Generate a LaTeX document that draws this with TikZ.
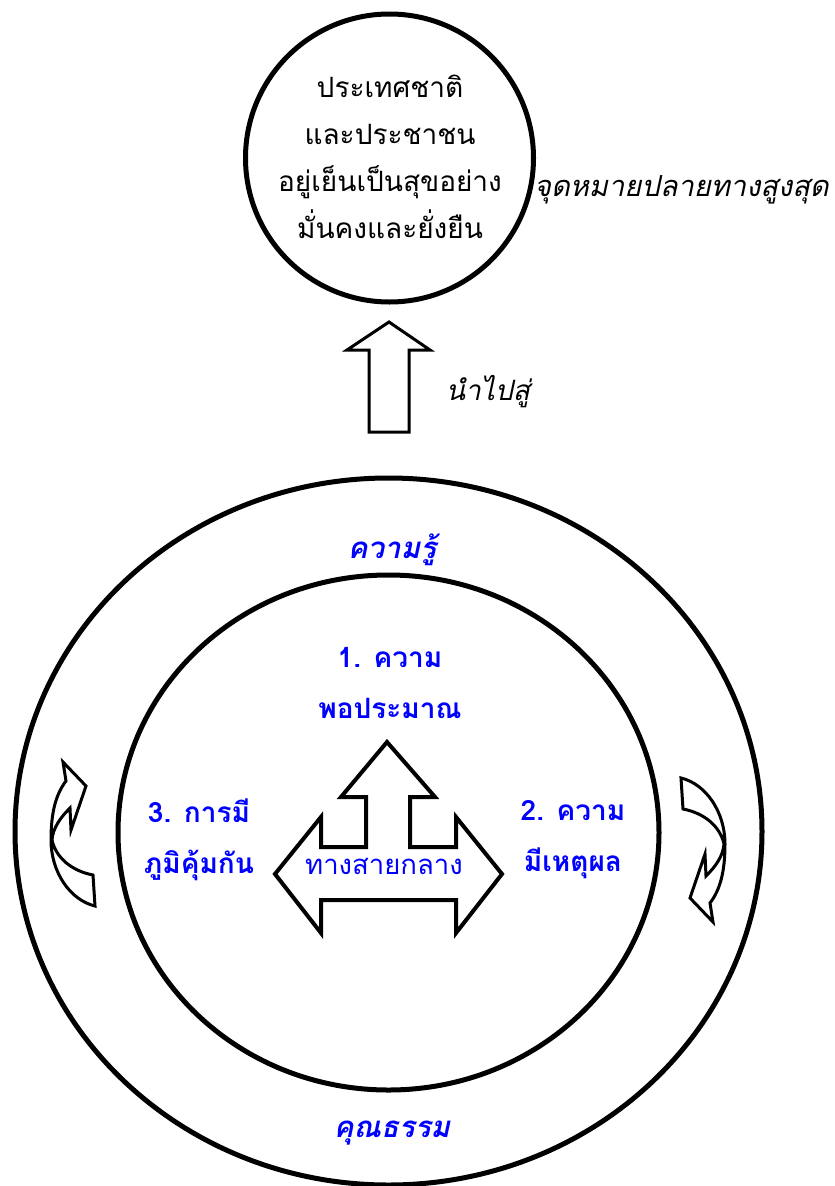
\documentclass[tikz,border=0pt]{standalone}
\usepackage{fontspec}
\newfontfamily\thai[Script=Thai]{Loma}
\definecolor{tblue}{RGB}{0,0,255}
\tikzset{
  ring/.style={draw=black, line width=5pt},
  uparrow/.style={draw=black, line width=3pt, fill=white, line join=miter},
  tarrow/.style={draw=black, line width=4pt, fill=white, line join=miter},
  curvarrow/.style={draw=black, line width=3pt, fill=white, line join=miter},
  blacktext/.style={font=\thai\fontsize{28}{47}\selectfont, align=center, text=black, inner sep=0pt},
  italictext/.style={font=\thai\itshape\fontsize{28}{34}\selectfont, text=black, inner sep=0pt},
  pillar/.style={font=\thai\bfseries\fontsize{28}{51}\selectfont, text=tblue, align=center, inner sep=0pt},
  ringlabel/.style={font=\thai\bfseries\itshape\fontsize{29.5}{34}\selectfont, text=tblue, inner sep=0pt},
  middletext/.style={font=\thai\fontsize{27.5}{34}\selectfont, text=tblue, inner sep=0pt},
}
\begin{document}
\begin{tikzpicture}[x=1pt,y=-1pt]
\useasboundingbox (0,0) rectangle (835,1186);
% top goal circle
\draw[ring] (389.5,158) circle [radius=144];
\node[blacktext] (goal) at (390,157) {ประเทศชาติ\\และประชาชน\\อยู่เย็นเป็นสุขอย่าง\\มั่นคงและยั่งยืน};
\node[italictext, font=\thai\itshape\fontsize{29}{34}\selectfont, anchor=east] (goallabel) at (829,190) {จุดหมายปลายทางสูงสุด};
% up arrow
\draw[uparrow] (389,322) -- (430,350) -- (409,350) -- (409,432) -- (369,432) -- (369,350) -- (347,350) -- cycle;
\node[italictext] (leads) at (488,392) {นำไปสู่};
% rings
\draw[ring] (388.5,831.5) ellipse [x radius=373.5, y radius=353.5];
\draw[ring] (388.5,832.5) ellipse [x radius=270.5, y radius=257.5];
\node[ringlabel] (know) at (392,550) {ความรู้};
\node[ringlabel] (moral) at (392,1133) {คุณธรรม};
% T arrow
\draw[tarrow] (387,742) -- (435,797) -- (410,797) -- (410,847) -- (456,847) -- (456,817) -- (502,874) -- (456,933) -- (456,900) -- (321,900) -- (321,933) -- (275,874) -- (321,817) -- (321,847) -- (366,847) -- (366,797) -- (341,797) -- cycle;
\node[middletext] (middle) at (384,866) {ทางสายกลาง};
% pillars
\node[pillar] (p1) at (390,683) {1. ความ\\พอประมาณ};
\node[pillar] (p3) at (199,840) {3. การมี\\ภูมิคุ้มกัน};
\node[pillar] (p2) at (573,840) {2. ความ\\มีเหตุผล};
% curved arrows
\def\curvedarrow{(63,762) -- (86,786) -- (71,830) -- (70,808) .. controls (60,818) and (53,828) .. (52,840) .. controls (56,858) and (72,871) .. (93,875) -- (95,906) .. controls (70,900) and (51,872) .. (51,840) .. controls (51,812) and (56,794) .. (66,781) -- cycle}
\draw[curvarrow] \curvedarrow;
\draw[curvarrow, rotate around={180:(388,842)}] \curvedarrow;
\end{tikzpicture}
\end{document}
